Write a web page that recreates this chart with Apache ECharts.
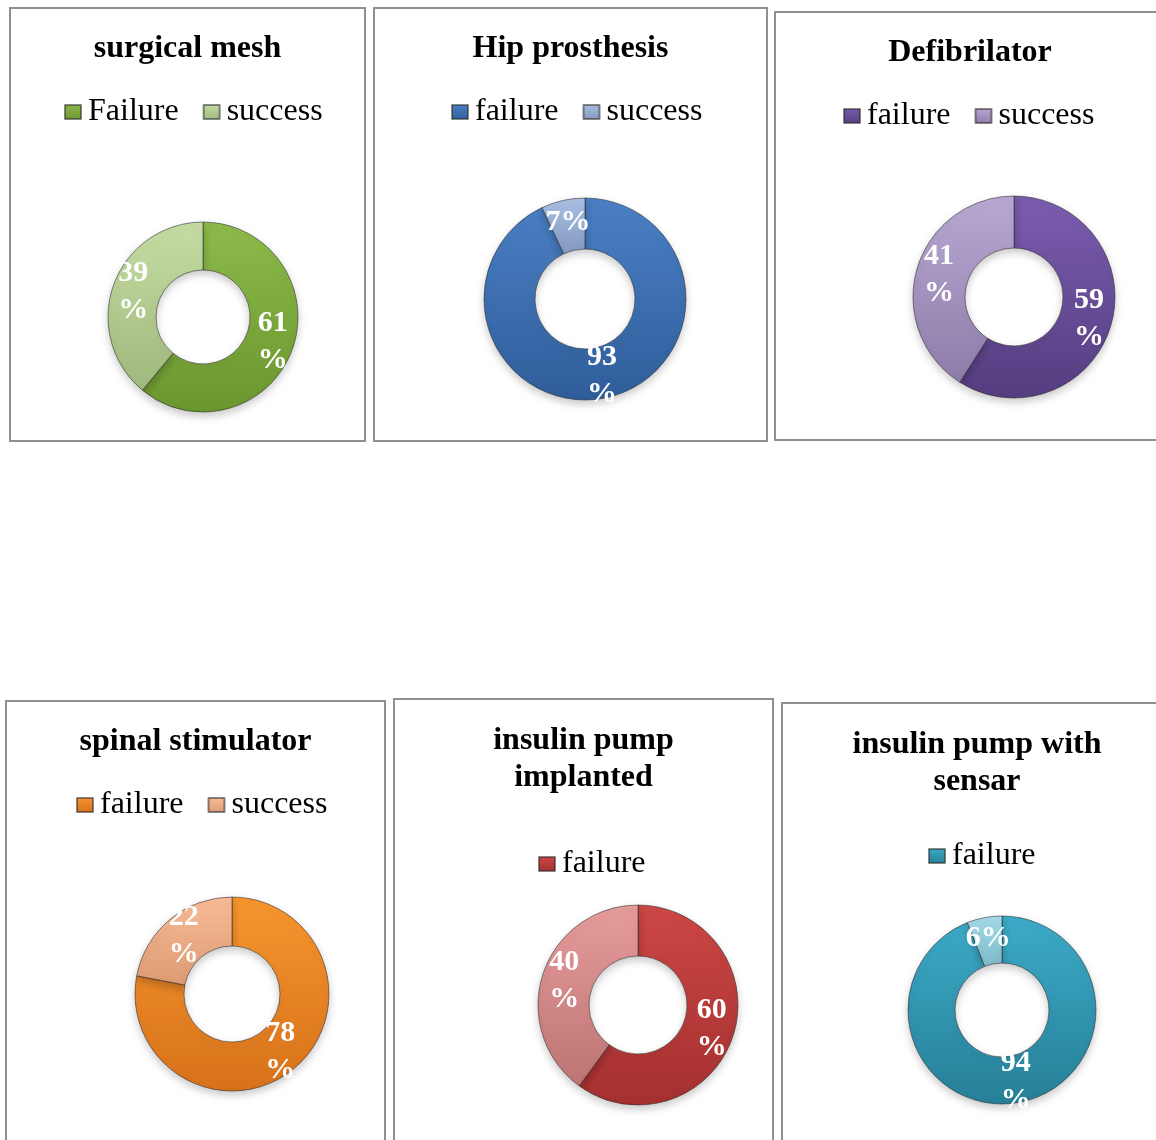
<!DOCTYPE html>
<html>
<head>
<meta charset="utf-8">
<title>Implant failure / success</title>
<script src="https://cdn.jsdelivr.net/npm/echarts@6/dist/echarts.min.js"></script>
<style>
    html, body { margin: 0; padding: 0; background: #fff; }
    body { width: 1156px; height: 1140px; position: relative; overflow: hidden; }
    .panel { position: absolute; box-sizing: border-box; border: 2px solid #8f8f8f; background: #fff; }
    .panel .chart { position: absolute; left: 0; top: 0; width: 100%; height: 100%; }
</style>
</head>
<body>
<div id="root"></div>
<script>
// Chart data
const titles = ['surgical mesh', 'Hip prosthesis', 'Defibrilator', 'spinal stimulator', 'insulin pump\nimplanted', 'insulin pump with\nsensar'];
const failureNames = ['Failure', 'failure', 'failure', 'failure', 'failure', 'failure'];
const successName = 'success';
const failureValues = [61, 93, 59, 78, 60, 94];
const successValues = [39, 7, 41, 22, 40, 6];
const successInLegend = [true, true, true, true, false, false];

// Panel layout + colours (top light, bottom dark)
const panels = [
    { box: [9, 7, 357, 435], titleTop: 16, legendPos: [53, 87], center: [192, 308], radius: [47, 95],
      fail: ['#8dbb4a', '#6a962f'], succ: ['#c6dca3', '#9fb87c'] },
    { box: [373, 7, 395, 435], titleTop: 16, legendPos: [76, 87], center: [210, 290], radius: [50, 101],
      fail: ['#4b80c6', '#2f5d9a'], succ: ['#a9c0e4', '#8398bf'] },
    { box: [774, 11, 392, 430], titleTop: 16, legendPos: [67, 87], center: [238, 284], radius: [49, 101],
      fail: ['#7b5db0', '#553d80'], succ: ['#b8a9d3', '#8d7ca9'] },
    { box: [5, 700, 381, 450], titleTop: 16, legendPos: [69, 87], center: [225, 292], radius: [48, 97],
      fail: ['#f7962f', '#d6711a'], succ: ['#f8bc96', '#dc9a72'] },
    { box: [393, 698, 381, 450], titleTop: 17, legendPos: [143, 148], center: [243, 305], radius: [49, 100],
      fail: ['#cd4745', '#a3302f'], succ: ['#e59c9b', '#bf7474'] },
    { box: [781, 702, 392, 450], titleTop: 17, legendPos: [145, 136], center: [219, 306], radius: [47, 94],
      fail: ['#3dabc8', '#267f97'], succ: ['#a5dbe8', '#7cb9c9'] }
];

const serif = '"Liberation Serif", "Times New Roman", serif';

function grad(c) {
    return new echarts.graphic.LinearGradient(0, 0, 0, 1, [
        { offset: 0, color: c[0] },
        { offset: 1, color: c[1] }
    ]);
}

const root = document.getElementById('root');

panels.forEach((p, i) => {
    const panel = document.createElement('div');
    panel.className = 'panel';
    panel.style.left = p.box[0] + 'px';
    panel.style.top = p.box[1] + 'px';
    panel.style.width = p.box[2] + 'px';
    panel.style.height = p.box[3] + 'px';
    const chartDom = document.createElement('div');
    chartDom.className = 'chart';
    panel.appendChild(chartDom);
    root.appendChild(panel);

    const chart = echarts.init(chartDom, null, { renderer: 'canvas' });

    const legendData = successInLegend[i] ? [failureNames[i], successName] : [failureNames[i]];

    chart.setOption({
        animation: false,
        backgroundColor: 'transparent',
        title: {
            text: titles[i],
            left: 'center',
            top: p.titleTop,
            textStyle: {
                fontFamily: serif,
                fontWeight: 'bold',
                fontSize: 32,
                lineHeight: 37,
                color: '#000'
            }
        },
        legend: {
            data: legendData,
            left: p.legendPos[0],
            top: p.legendPos[1],
            padding: 0,
            icon: 'rect',
            itemWidth: 16,
            itemHeight: 14,
            itemGap: 24,
            textStyle: { fontFamily: serif, fontSize: 32, color: '#000', padding: [0, 0, 0, 2] }
        },
        series: [{
            type: 'pie',
            center: p.center,
            radius: p.radius,
            startAngle: 90,
            clockwise: true,
            silent: true,
            avoidLabelOverlap: false,
            itemStyle: {
                borderColor: 'rgba(40,40,40,0.55)',
                borderWidth: 1,
                shadowBlur: 8,
                shadowOffsetY: 4,
                shadowColor: 'rgba(0,0,0,0.22)'
            },
            label: {
                position: 'inside',
                color: '#fff',
                fontFamily: serif,
                fontWeight: 'bold',
                fontSize: 30,
                lineHeight: 37,
                formatter: (d) => d.value < 10 ? d.value + '%' : d.value + '\n%'
            },
            labelLine: { show: false },
            data: [
                { name: failureNames[i], value: failureValues[i], itemStyle: { color: grad(p.fail) } },
                { name: successName, value: successValues[i], itemStyle: { color: grad(p.succ) } }
            ]
        }]
    });
});
</script>
</body>
</html>
